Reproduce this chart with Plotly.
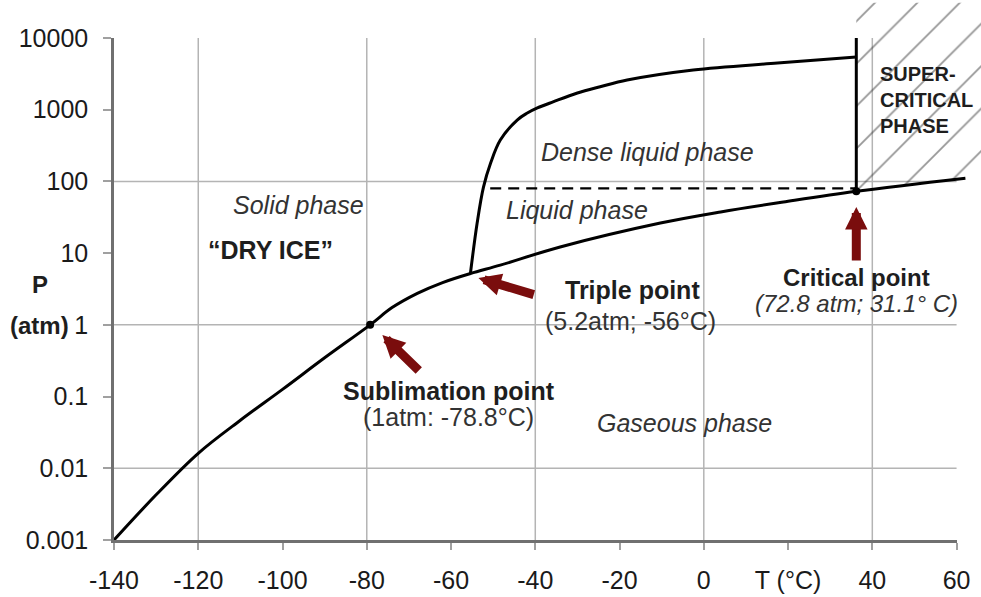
import math
import plotly.graph_objects as go

# ---------------- data ----------------
# sublimation / vaporisation curve (T in degC, P in atm)
vapor_T = [-140, -130, -120, -110, -100, -90, -79.2, -74, -68, -62, -55.4,
           -48.3, -34.1, -10.3, 4.0, 18.9, 36.2, 62.1]
vapor_P = [0.001, 0.00427, 0.0162, 0.0468, 0.126, 0.347, 1.0, 1.74, 2.75, 3.89, 5.2,
           6.8, 12.2, 26.3, 37.6, 51.6, 72.8, 111]

# melting curve (solid / dense liquid boundary)
melt_T = [-55.4, -53.8, -52.3, -50.6, -48.3, -44.3, -42.0, -39.5, -35.65, -30.0,
          -24.6, -18.2, -2.5, 17.5, 36.2]
melt_P = [5.2, 26.3, 83.2, 180.7, 377.6, 717.8, 891, 1057, 1294, 1710,
          2089, 2594, 3581, 4477, 5433]

# critical isotherm (vertical boundary of supercritical phase)
crit_T = [36.2, 36.2]
crit_P = [72.8, 10000]

# liquid / dense liquid dashed boundary
liq_T = [-50.7, 36.2]
liq_P = [80, 80]

# marked points: sublimation point, critical point
point_T = [-79.2, 36.2]
point_P = [1.0, 72.8]

# supercritical hatched region
hatch_T = [36.2, 36.2, 65.8, 65.8, 62.1]
hatch_P = [72.8, 31000, 31000, 118, 111]

# axes
x_ticks = [-140, -120, -100, -80, -60, -40, -20, 0, 20, 40, 60]
x_ticktext = ['-140', '-120', '-100', '-80', '-60', '-40', '-20', '0', 'T (°C)', '40', '60']
y_ticks = [0.001, 0.01, 0.1, 1, 10, 100, 1000, 10000]
y_ticktext = ['0.001', '0.01', '0.1', '1', '10', '100', '1000', '10000']
grid_T = [-120, -80, -40, 0, 40]
grid_P = [0.01, 1, 100]

# ---------------- figure ----------------
FONT = 'Liberation Sans, Arial, sans-serif'
X2_RANGE = [-140, 65.8]
Y2_RANGE = [-3, 4.53]
X_RANGE = [-140, 60]
Y_RANGE = [-3, 4]

fig = go.Figure()

# keeps the main (tick-carrying) subplot alive
fig.add_trace(go.Scatter(x=[None], y=[None], xaxis='x', yaxis='y',
                         showlegend=False, hoverinfo='skip'))

fig.add_trace(go.Scatter(
    x=hatch_T, y=hatch_P, xaxis='x2', yaxis='y2', mode='none', fill='toself',
    fillcolor='rgba(0,0,0,0)',
    fillpattern=dict(shape='/', size=30, solidity=0.06, fgcolor='#2e2e2e',
                     bgcolor='rgba(0,0,0,0)'),
    showlegend=False, hoverinfo='skip'))

line_style = dict(color='black', width=3)
fig.add_trace(go.Scatter(x=vapor_T, y=vapor_P, xaxis='x2', yaxis='y2', mode='lines',
                         line=dict(**line_style, shape='spline', smoothing=1.0),
                         showlegend=False))
fig.add_trace(go.Scatter(x=melt_T, y=melt_P, xaxis='x2', yaxis='y2', mode='lines',
                         line=dict(**line_style, shape='spline', smoothing=1.0),
                         showlegend=False))
fig.add_trace(go.Scatter(x=crit_T, y=crit_P, xaxis='x2', yaxis='y2', mode='lines',
                         line=line_style, showlegend=False))
fig.add_trace(go.Scatter(x=liq_T, y=liq_P, xaxis='x2', yaxis='y2', mode='lines',
                         line=dict(color='black', width=2.2, dash='11px,7px'),
                         showlegend=False))
fig.add_trace(go.Scatter(x=point_T, y=point_P, xaxis='x2', yaxis='y2', mode='markers',
                         marker=dict(color='black', size=8), showlegend=False))

# grid lines (drawn on the full-size overlay axes, beneath the curves)
shapes = []
for g in grid_T:
    shapes.append(dict(type='line', xref='x2', yref='y2', x0=g, x1=g,
                       y0=y_ticks[0], y1=y_ticks[-1], layer='below',
                       line=dict(color='#b4b4b4', width=1.5)))
for g in grid_P:
    shapes.append(dict(type='line', xref='x2', yref='y2', x0=X_RANGE[0], x1=X_RANGE[1],
                       y0=g, y1=g, layer='below',
                       line=dict(color='#b4b4b4', width=1.5)))

# ---------------- annotations ----------------
def lbl(text, T, P, size=25, bold=False, italic=False, color='#1e1e1e',
        xanchor='center', align='center'):
    t = text
    if bold:
        t = '<b>' + t + '</b>'
    if italic:
        t = '<i>' + t + '</i>'
    return dict(text=t, x=T, y=math.log10(P), xref='x2', yref='y2', showarrow=False,
                xanchor=xanchor, yanchor='middle', align=align,
                font=dict(family=FONT, size=size, color=color))

annotations = [
    lbl('Solid phase', -96.3, 10 ** 1.67, italic=True, color='#333'),
    lbl('“DRY ICE”', -102.9, 10 ** 1.04, bold=True),
    lbl('Dense liquid phase', -13.4, 10 ** 2.41, italic=True, color='#333'),
    lbl('Liquid phase', -30.0, 10 ** 1.60, italic=True, color='#333'),
    lbl('Gaseous phase', -4.6, 10 ** -1.37, italic=True, color='#333'),
    lbl('Sublimation point', -60.4, 10 ** -0.923, bold=True),
    lbl('(1atm: -78.8°C)', -60.7, 10 ** -1.286, color='#333'),
    lbl('Triple point', -17.0, 10 ** 0.486, bold=True),
    lbl('(5.2atm; -56°C)', -17.4, 10 ** 0.0535, color='#333'),
    lbl('Critical point', 36.2, 10 ** 0.667, size=24, bold=True),
    lbl('(72.8 atm; 31.1° C)', 36.3, 10 ** 0.291, size=24, italic=True, color='#333'),
    lbl('SUPER-<br>CRITICAL<br>PHASE', 41.4, 10 ** 3.135, size=20, bold=True,
        xanchor='left', align='left'),
]

# axis title pieces, placed left of the y axis (paper coordinates)
annotations.append(dict(text='<b>P</b>', x=-0.0854, y=0.474, xref='paper', yref='paper',
                        showarrow=False, xanchor='center', yanchor='middle',
                        font=dict(family=FONT, size=24, color='#1e1e1e')))
annotations.append(dict(text='<b>(atm)</b>', x=-0.0854, y=0.398, xref='paper', yref='paper',
                        showarrow=False, xanchor='center', yanchor='middle',
                        font=dict(family=FONT, size=24, color='#1e1e1e')))

ARROW = '#7a0d0d'
arrows = [  # tip (T, P), tail (T, P)
    ((-76.3, 10 ** -0.142), (-67.3, 10 ** -0.658)),
    ((-53.5, 10 ** 0.653), (-40.0, 10 ** 0.416)),
    ((36.2, 10 ** 1.643), (36.2, 10 ** 0.876)),
]
for (tx, tp), (ax, ap) in arrows:
    annotations.append(dict(
        text='', x=tx, y=math.log10(tp), xref='x2', yref='y2',
        ax=ax, ay=math.log10(ap), axref='x2', ayref='y2',
        showarrow=True, arrowhead=2, arrowsize=0.5, arrowwidth=9,
        arrowcolor=ARROW, standoff=0, startstandoff=0))

tickfont = dict(family=FONT, size=25, color='#1a1a1a')

fig.update_layout(
    width=981, height=597,
    margin=dict(l=114, r=0, t=0, b=57, pad=0),
    paper_bgcolor='white', plot_bgcolor='white',
    showlegend=False,
    xaxis=dict(domain=[0, (X_RANGE[1] - X_RANGE[0]) / (X2_RANGE[1] - X2_RANGE[0])],
               range=X_RANGE, anchor='y', tickmode='array', tickvals=x_ticks,
               ticktext=x_ticktext, ticks='outside', ticklen=7, tickwidth=1.5,
               tickcolor='#a0a0a0', showline=True, linecolor='#707070', linewidth=2.5,
               showgrid=False, zeroline=False, tickfont=tickfont,
               ticklabelstandoff=9, automargin=False, fixedrange=True),
    yaxis=dict(domain=[0, (Y_RANGE[1] - Y_RANGE[0]) / (Y2_RANGE[1] - Y2_RANGE[0])],
               type='log', range=Y_RANGE, anchor='x', tickmode='array', tickvals=y_ticks,
               ticktext=y_ticktext, ticks='outside', ticklen=8, tickwidth=1.5,
               tickcolor='#a0a0a0', showline=True, linecolor='#707070', linewidth=2.5,
               showgrid=False, zeroline=False, tickfont=tickfont,
               ticklabelstandoff=10, automargin=False, fixedrange=True),
    xaxis2=dict(domain=[0, 1], range=X2_RANGE, anchor='y2', visible=False,
                fixedrange=True),
    yaxis2=dict(domain=[0, 1], type='log', range=Y2_RANGE, anchor='x2', visible=False,
                fixedrange=True),
    shapes=shapes,
    annotations=annotations,
)

fig.write_html('out.html')
